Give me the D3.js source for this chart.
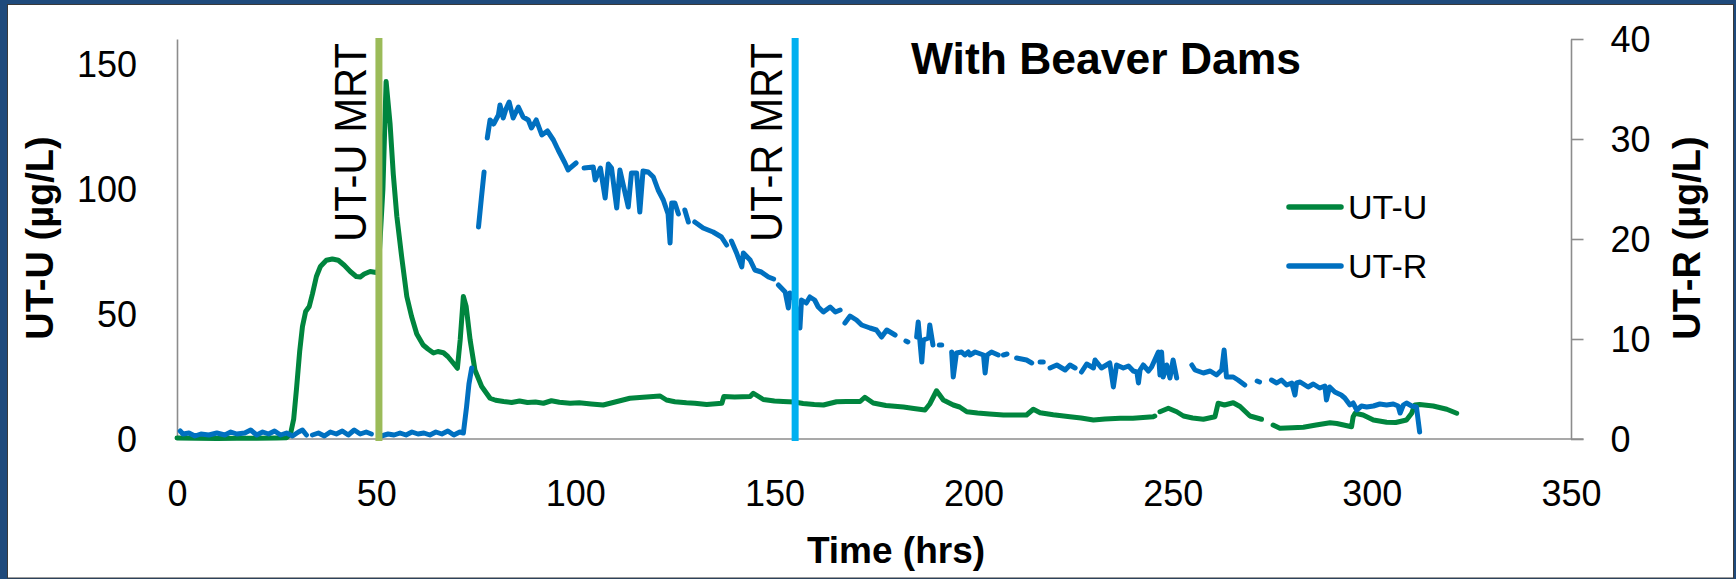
<!DOCTYPE html>
<html>
<head>
<meta charset="utf-8">
<script src="https://cdn.jsdelivr.net/npm/d3@7"></script>
<style>
  html, body { margin: 0; padding: 0; background: #ffffff; }
  svg text { font-family: "Liberation Sans", Arial, sans-serif; fill: #000; }
</style>
</head>
<body>
<svg id="chart" width="1736" height="579"></svg>
<script>
// ---- data -------------------------------------------------------------
// Time axis ticks (hrs)
const xTicks = [0, 50, 100, 150, 200, 250, 300, 350];
const leftTicks = [0, 50, 100, 150];
const rightTicks = [0, 10, 20, 30, 40];

// Mean residence times (hrs)
const mrtLabels = ["UT-U MRT", "UT-R MRT"];
const mrtHours = [50.7, 155.2];

// UT-U concentration (µg/L) vs time (hrs); null marks a logging gap
const utuData = [
  [0,0.4],[5,0.3],[10,0.2],[15,0.3],[20,0.3],[25,0.4],[27.5,0.5],[28.5,2],[29.3,8],[30,20],
  [30.8,35],[31.5,45],[32.3,51],[33.2,53],[34,58],[35,65],[36,69],[37.5,71.5],[39,72],[40.5,71.5],
  [42,69.5],[43.5,67],[45,65],[46,64.8],[47,66],[48.5,67],[50,66.6],[50.5,66.5],[51,80],[51.7,100],
  [52.5,143],[53.5,126],[54.3,106],[55.2,89],[56.4,73],[57.7,57],[58.9,49],[60.2,42],[61.8,37.6],[63,36],
  [64.4,34.4],[65.5,35],[66.9,34.5],[68,33],[69.4,30.3],[70.4,28.3],[71.1,39.6],[71.9,57],[72.6,53],[73.6,39.6],
  [74.8,27.6],[76.5,21],[78.6,16.3],[80,15.5],[82,15],[84,14.6],[86,15.2],[88,14.6],[90,14.8],[92,14.3],
  [94,15.3],[96,14.7],[98.7,14.3],[101,14.5],[104,14],[107,13.6],[109.5,14.6],[113.7,16.3],[117,16.7],[121.3,17.2],
  [122.9,15.6],[125,14.9],[127.9,14.5],[130,14.3],[133,13.8],[136.8,14.3],[137.3,17],[140,16.8],[143.9,17],[144.7,18.3],
  [147.2,15.8],[150,15.2],[152.2,15],[155,14.8],[157.2,14.2],[160,13.8],[162.3,13.6],[165.6,14.9],[168,15],[171.5,15],
  [172.7,16.7],[174.8,14.4],[178,13.4],[182.4,12.8],[185,12.2],[187.8,11.6],[189,14],[190.7,19.3],[192.4,15.6],[194.9,13.6],
  [196.5,12.8],[198.3,10.9],[201,10.4],[204,10],[207.5,9.6],[210,9.6],[213.3,9.6],[215,11.9],[216.7,10.5],[220,9.7],
  [224.2,8.9],[227,8.4],[230.1,7.6],[233,8],[236.8,8.3],[240,8.3],[245.1,8.9],[245.5,9.2],null,
  [246.8,10.9],[248.9,12.3],[251,10.9],[252.7,9.2],[255,8.4],[257.7,7.9],[260.6,8.9],[261.4,14.3],[263,13.6],[265.2,14.5],
  [266.9,13],[269.4,9.2],[272.3,7.9],null,
  [275.2,5.6],[276.9,4.3],[280,4.5],[282.8,4.7],[286,5.6],[289.5,6.5],[291.2,6.2],[294.9,4.9],[295.3,8.9],[295.8,10.3],
  [297.8,9.6],[300.4,7.6],[303.7,6.7],[306,6.6],[308.7,7.6],[310,10.3],[310.8,13.6],[312,13.8],[315.4,13.2],[318.8,11.9],
  [321.3,10.3]
];

// UT-R concentration (µg/L) vs time (hrs); null marks a logging gap
const utrData = [
  [0.8,0.8],[1.5,0.5],[3,0.6],[4.5,0.3],[6,0.5],[8,0.4],[10,0.6],[12,0.4],[13.5,0.7],[15,0.5],
  [17,0.6],[18.5,0.9],[20,0.4],[21.5,0.7],[23,0.5],[24.5,0.8],[26,0.4],[27.5,0.6],[29,0.3],[30.5,0.7],
  [31.5,0.9],[32.5,0.4],null,
  [34,0.4],[35.5,0.6],[37,0.3],[38.5,0.7],[40,0.5],[41.5,0.8],[43,0.4],[44.5,0.9],[46,0.5],[47.5,0.7],[48.8,0.5],null,
  [51.3,0.3],[53,0.5],[54.5,0.4],[56,0.6],[57.5,0.4],[59,0.7],[60.5,0.5],[62,0.6],[63.5,0.4],[65,0.7],
  [66.5,0.5],[68,0.8],[69.5,0.4],[71,0.7],[71.9,0.6],[72.7,3.2],[73.3,5.5],[74,7.1],null,
  [75.7,21.2],[76.4,24],[77.1,26.7],null,
  [77.9,30.1],[78.6,31.9],[79.5,31.5],[80.7,32.4],[81.1,33.4],[81.9,32.1],[82.6,33],[83.4,33.7],[84.4,32.1],[85.7,33.2],
  [86.9,32.2],[88.2,31.9],[89,31.1],[90.2,31.9],[91.6,30.4],[93,30.8],[94.5,29.9],[95.7,28.9],[97.4,27.6],[98.2,26.9],
  [98.7,27.1],[100.2,27.6],null,
  [102.2,27.1],[104.5,27.2],[105,25.9],[106.3,27.1],[107.5,24.1],[108.3,27.5],[109.1,27.1],[110.4,23.1],[111.2,26.9],[113.3,23.2],
  [114.1,26.6],[115.4,26.6],[116.2,22.7],[117,26.8],[118.3,26.7],[119.6,26.2],[120.8,24.9],[122.1,23.9],[123.3,22.5],[123.8,19.6],
  [124.2,23.6],[125,23.6],[125.9,22.5],null,
  [127.5,22.9],[128.4,21.7],null,
  [130,21.7],[132.1,21.1],[134.6,20.7],[136.7,20.2],[138,19.4],null,
  [139.2,19.8],[140.5,18.6],[141.8,17.2],[142.2,18.6],[143.9,17.9],[145.1,16.9],[146.7,16.7],[148.5,16.2],[149.8,16],null,
  [151,15.4],[152.7,14.7],[153.5,13.1],[153.9,14.6],[155,14],[156.4,11.1],[156.8,13.9],[158,13.6],[158.9,14.2],[160.1,13.9],
  [161,13.2],[162.3,12.7],[164,13.2],[165.3,12.7],[166.5,12.9],null,
  [167.7,11.6],[169,12.3],[170.6,11.9],[171.9,11.4],[174,11.1],[175.6,10.9],[176.9,10.2],[178.2,10.9],[180.3,10.4],null,
  [183,9.8],[183.5,9.7],null,
  [185.7,10.2],[186.1,11.7],[187,7.7],[187.4,9.9],[188.7,10.1],[189,11.4],[189.8,9.4],null,
  [191.4,9.4],[192,9.4],null,
  [194.5,8.7],[194.9,6.2],[195.7,8.6],[197,8.7],[197.8,8.4],[198.7,8.7],[199.1,8.4],[200.4,8.7],[202.5,8.4],[202.9,6.6],
  [203.4,8.4],[204.5,8.7],[206.2,8.4],null,
  [207.5,8.4],[208.4,8.5],null,
  [210.8,8.1],[213.3,7.9],[214.6,7.6],null,
  [216.7,7.7],[217.5,7.7],null,
  [219.2,7.1],[220.9,7.4],[223,6.9],[224.2,7.4],[225.5,7.1],null,
  [227.1,6.7],[228.4,7.5],[230.1,7.1],[230.5,7.9],[232.1,7.1],[234.2,7.6],[235.1,5.2],[235.9,7.4],[237.6,7.1],[238.9,7.3],
  [240.1,6.8],[241,6.7],[241.4,5.6],[241.8,6.9],[242.6,7.4],[243.9,6.8],[244.7,7.2],[246.4,8.7],[246.8,6.4],[247.2,8.7],
  [247.6,6.2],[248.5,7.4],[249.3,6.1],[250.1,7.9],[251,6.1],null,
  [254.8,7.4],[255.6,6.9],[257.7,6.6],[259.4,6.8],[261,6.4],[262.3,6.9],[262.9,8.9],[263.5,6.2],[265.2,6.2],[266.4,5.9],
  [268.1,5.4],null,
  [271.2,5.8],[271.8,5.7],null,
  [274.8,5.9],[276.1,5.6],[277.3,5.9],[278.6,5.4],[279.9,5.6],[280.7,4.4],[281.1,5.6],[282,5.7],[284,5.2],[285.3,5.5],
  [286.9,5.1],[288.2,5.3],[288.6,3.9],[289.4,5.2],[290.7,4.7],[292.3,4.4],[293.2,4.1],[294.5,3.4],[295.3,3.6],[296.2,2.9],
  [297.4,3.3],[298.7,3.2],[300.4,3.3],[302,3.5],[303.7,3.4],[305.4,3.5],[306.6,3.3],[307.1,2.6],[307.9,3.4],[308.7,3.6],
  [310,3.3],[311.2,3.2],[312,0.7]
];

// ---- layout -----------------------------------------------------------
const svg = d3.select("#chart");
const W = 1736, H = 579;
const frameColor = "#1F4A7C";
const axisColor = "#8C8C8C";
const utuColor = "#00853E";
const utrColor = "#0070C0";
const mrtColors = ["#9BBB59", "#00B0F0"];

// slide-style frame
svg.append("rect").attr("x", 0).attr("y", 0).attr("width", W).attr("height", H).attr("fill", frameColor);
svg.append("rect").attr("x", 7.5).attr("y", 4.5).attr("width", W - 10).attr("height", H - 5.5)
  .attr("fill", "#ffffff").attr("stroke", "#3a3a3a").attr("stroke-width", 1);

const x = d3.scaleLinear().domain([0, 350]).range([177, 1571]);
const yL = d3.scaleLinear().domain([0, 160]).range([439, 39]);
const yR = d3.scaleLinear().domain([0, 40]).range([439, 39]);
const tickLen = 12.5;

// ---- axes -------------------------------------------------------------
function styleAxis(g) {
  g.selectAll("path, line").attr("stroke", axisColor).attr("stroke-width", 1.6);
  g.selectAll("text").attr("font-size", 36).attr("fill", "#000");
}

const gLeft = svg.append("g").attr("transform", `translate(${x(0)},0)`)
  .call(d3.axisLeft(yL).tickValues(leftTicks).tickSize(0).tickPadding(40));
styleAxis(gLeft);
gLeft.selectAll("text").attr("dy", "0.36em");

const gRight = svg.append("g").attr("transform", `translate(${x(350)},0)`)
  .call(d3.axisRight(yR).tickValues(rightTicks).tickSize(tickLen).tickSizeOuter(0).tickPadding(27));
styleAxis(gRight);
gRight.selectAll("text").attr("dy", "0.36em");

const gBottom = svg.append("g").attr("transform", `translate(0,${yL(0)})`)
  .call(d3.axisBottom(x).tickValues(xTicks).tickSize(0).tickPadding(41).tickFormat(d3.format("d")));
styleAxis(gBottom);
gBottom.select(".domain").remove();
svg.append("line")
  .attr("x1", x(0)).attr("x2", x(350) + tickLen)
  .attr("y1", yL(0)).attr("y2", yL(0))
  .attr("stroke", axisColor).attr("stroke-width", 1.6);

// ---- series -----------------------------------------------------------
const lineL = d3.line().defined(d => d !== null).x(d => x(d[0])).y(d => yL(d[1]));
const lineR = d3.line().defined(d => d !== null).x(d => x(d[0])).y(d => yR(d[1]));

svg.append("path").datum(utuData).attr("d", lineL)
  .attr("fill", "none").attr("stroke", utuColor).attr("stroke-width", 5)
  .attr("stroke-linejoin", "round").attr("stroke-linecap", "round");

svg.append("path").datum(utrData).attr("d", lineR)
  .attr("fill", "none").attr("stroke", utrColor).attr("stroke-width", 5)
  .attr("stroke-linejoin", "round").attr("stroke-linecap", "round");

// ---- mean residence time markers ---------------------------------------
mrtHours.forEach((h, i) => {
  svg.append("line")
    .attr("x1", x(h)).attr("x2", x(h))
    .attr("y1", yL(160) - 1).attr("y2", yL(0) + 2)
    .attr("stroke", mrtColors[i]).attr("stroke-width", 7);
  const tx = x(h) - 13, ty = 242;
  svg.append("text")
    .attr("transform", `translate(${tx},${ty}) rotate(-90)`)
    .attr("font-size", 44)
    .attr("textLength", 199).attr("lengthAdjust", "spacingAndGlyphs")
    .text(mrtLabels[i]);
});

// ---- titles -----------------------------------------------------------
svg.append("text")
  .attr("x", 911).attr("y", 74)
  .attr("font-size", 44).attr("font-weight", "bold")
  .attr("textLength", 390).attr("lengthAdjust", "spacingAndGlyphs")
  .text("With Beaver Dams");

svg.append("text")
  .attr("x", 896).attr("y", 563).attr("text-anchor", "middle")
  .attr("font-size", 37).attr("font-weight", "bold")
  .text("Time (hrs)");

svg.append("text")
  .attr("transform", `translate(53,238) rotate(-90)`)
  .attr("text-anchor", "middle")
  .attr("font-size", 38).attr("font-weight", "bold")
  .text("UT-U (µg/L)");

svg.append("text")
  .attr("transform", `translate(1700,238) rotate(-90)`)
  .attr("text-anchor", "middle")
  .attr("font-size", 38).attr("font-weight", "bold")
  .text("UT-R (µg/L)");

// ---- legend -----------------------------------------------------------
const legendItems = [
  { name: "UT-U", color: utuColor, y: 207 },
  { name: "UT-R", color: utrColor, y: 266 }
];
const lg = svg.append("g");
legendItems.forEach(it => {
  lg.append("line")
    .attr("x1", 1289).attr("x2", 1341).attr("y1", it.y).attr("y2", it.y)
    .attr("stroke", it.color).attr("stroke-width", 5.5).attr("stroke-linecap", "round");
  lg.append("text")
    .attr("x", 1348).attr("y", it.y + 12)
    .attr("font-size", 34)
    .text(it.name);
});
</script>
</body>
</html>
